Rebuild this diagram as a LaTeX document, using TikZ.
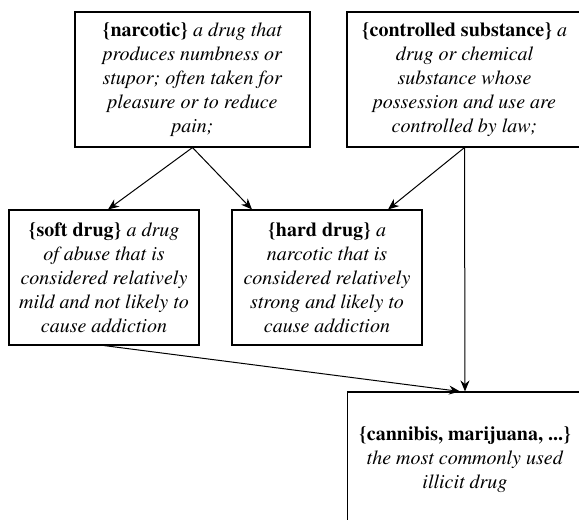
\documentclass[tikz,border=0pt]{standalone}
\usepackage[T1]{fontenc}
\usepackage{times}
\usetikzlibrary{arrows.meta}
\begin{document}
\begin{tikzpicture}[x=1pt,y=-1pt,
  box/.style={draw=black,line width=1.1pt,inner sep=0pt,align=center,
    font=\fontsize{20}{24}\selectfont},
  wide/.style={box,minimum width=235pt,minimum height=135pt},
  narrow/.style={box,minimum width=190pt,minimum height=135pt},
  conn/.style={draw=black,line width=1pt,-{Stealth[length=11pt,width=9pt]}}]
\useasboundingbox (0,0) rectangle (579,520);
\begin{scope}
\clip (0,0) rectangle (579,520);
\node[wide] (narc) at (192.5,79.5) {\textbf{\{narcotic\}} \textit{a drug that}\\ \textit{produces numbness or}\\ \textit{stupor; often taken for}\\ \textit{pleasure or to reduce}\\ \textit{pain;}};
\node[wide] (ctrl) at (464.5,79.5) {\textbf{\{controlled substance\}} \textit{a}\\ \textit{drug or chemical}\\ \textit{substance whose}\\ \textit{possession and use are}\\ \textit{controlled by law;}};
\node[narrow] (soft) at (104,277.5) {\textbf{\{soft drug\}} \textit{a drug}\\ \textit{of abuse that is}\\ \textit{considered relatively}\\ \textit{mild and not likely to}\\ \textit{cause addiction}};
\node[narrow] (hard) at (327,277.5) {\textbf{\{hard drug\}} \textit{a}\\ \textit{narcotic that is}\\ \textit{considered relatively}\\ \textit{strong and likely to}\\ \textit{cause addiction}};
\node[wide,minimum height=136pt] (cann) at (465,460) {\textbf{\{cannibis, marijuana, ...\}}\\ \textit{the most commonly used}\\ \textit{illicit drug}};
\end{scope}
\draw[conn] (narc.south) -- ([xshift=4pt]soft.north);
\draw[conn] (narc.south) -- ([xshift=-75pt]hard.north);
\draw[conn] (ctrl.south) -- ([xshift=61pt]hard.north);
\draw[conn] (ctrl.south) -- (cann.north);
\draw[conn] (soft.south) -- ([xshift=-5pt]cann.north);
\end{tikzpicture}
\end{document}
